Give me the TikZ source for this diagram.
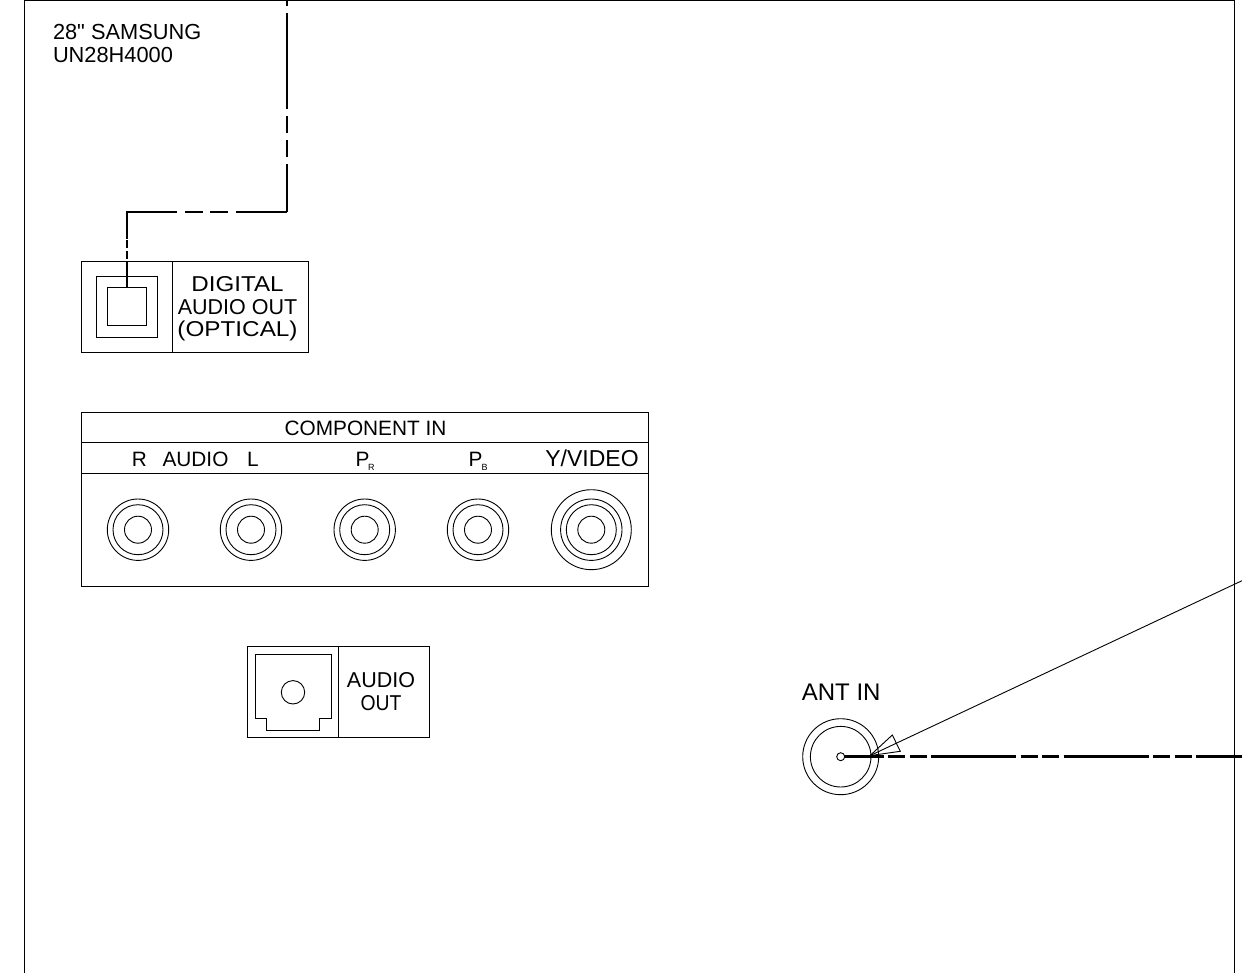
\documentclass[tikz,border=0pt]{standalone}
\usepackage{graphicx}
\usepackage{fontspec}
\setmainfont{Liberation Sans}[Ligatures=TeXOff]
\begin{document}
\begin{tikzpicture}[x=1pt,y=-1pt,
  thinline/.style={line width=0.9pt,black},
  panel/.style={draw,thinline,rectangle,inner sep=0pt,outer sep=0pt},
  ring/.style={draw,thinline,circle,inner sep=0pt,outer sep=0pt},
  label/.style={inner sep=0pt,outer sep=0pt,font=\fontsize{21.5}{22.5}\selectfont,text=black},
  titlelabel/.style={inner sep=0pt,outer sep=0pt,font=\fontsize{21.8}{22.7}\selectfont,text=black},
  rowlabel/.style={inner sep=0pt,outer sep=0pt,font=\fontsize{20.8}{22}\selectfont,text=black},
  sublabel/.style={inner sep=0pt,outer sep=0pt,font=\fontsize{9}{9}\selectfont,text=black},
  cable/.style={line width=1.7pt,black},
  coax/.style={line width=2.7pt,black}]
\useasboundingbox (0,0) rectangle (1242,973);
% outer frame
\coordinate (fbl) at (24.5,973);
\coordinate (ftl) at (24.5,0.5);
\coordinate (ftr) at (1234,0.5);
\coordinate (fbr) at (1234,973);
\draw[thinline] (fbl) -- (ftl) -- (ftr) -- (fbr);
% title
\node[titlelabel,anchor=base west,align=left] (title) at (53,62.7) {28" SAMSUNG\\UN28H4000};
% digital audio
\node[panel,minimum width=226.5pt,minimum height=90.5pt] (dbox) at (194.75,306.75) {};
\coordinate (dtop) at (172.5,261.5);
\coordinate (dbot) at (172.5,352);
\draw[thinline] (dtop) -- (dbot);
\node[panel,minimum width=61pt,minimum height=61pt] (dout) at (127,307) {};
\node[panel,minimum width=38.5pt,minimum height=38.5pt] (din) at (127,306.7) {};
\node[label,anchor=base,align=center] (dlabel) at (237.5,336.7) {\scalebox{1.125}[1]{DIGITAL}\\AUDIO OUT\\\scalebox{1.13}[1]{(OPTICAL)}};
% optical cable
\coordinate (ctop) at (287,0);
\coordinate (ccorner) at (287,212);
\coordinate (cleft) at (127,212);
\coordinate (cmid) at (127,239);
\draw[cable,dash pattern=on 96pt off 7pt on 17pt off 7pt on 17pt off 7pt,dash phase=138pt] (ctop) -- (ccorner);
\draw[cable,line join=miter,dash pattern=on 96pt off 8pt on 18pt off 7pt on 18pt off 8pt,dash phase=45pt] (ccorner) -- (cleft) -- (cmid);
\draw[cable,dash pattern=on 8.5pt off 2.5pt on 8.5pt off 2.5pt on 40pt off 2pt] (cmid) ++(0,1) -- (din.north);
% component in
\node[panel,minimum width=567.5pt,minimum height=174pt] (comp) at (365,499.7) {};
\coordinate (r1l) at (81.25,442.7);
\coordinate (r1r) at (648.75,442.7);
\coordinate (r2l) at (81.25,473.3);
\coordinate (r2r) at (648.75,473.3);
\draw[thinline] (r1l) -- (r1r) (r2l) -- (r2r);
\node[rowlabel,anchor=base] (ctitle) at (365.5,435.5) {COMPONENT IN};
\node[rowlabel,anchor=base] (lr) at (139.5,466) {R};
\node[rowlabel,anchor=base] (laudio) at (195.5,466) {AUDIO};
\node[rowlabel,anchor=base] (ll) at (253,466) {L};
\node[rowlabel,anchor=base west] (lpr) at (355.5,466) {P};
\node[sublabel,anchor=base west] (lprs) at (368,470) {R};
\node[rowlabel,anchor=base west] (lpb) at (468.5,466) {P};
\node[sublabel,anchor=base west] (lpbs) at (481.5,470) {B};
\node[label,anchor=base,font=\fontsize{23}{24}\selectfont] (lvid) at (592,466) {Y/VIDEO};
% jacks
\foreach \n/\cx in {a/138,b/251,c/364.7,d/478,e/591.3}{
  \node[ring,minimum size=61.4pt] (\n1) at (\cx,529.7) {};
  \node[ring,minimum size=50pt] (\n2) at (\cx,529.7) {};
  \node[ring,minimum size=27pt] (\n3) at (\cx,529.7) {};
}
\node[ring,minimum size=80pt] (e0) at (591.3,529.7) {};
% audio out
\node[panel,minimum width=182pt,minimum height=91pt] (abox) at (338.3,692.2) {};
\coordinate (atop) at (338.7,646.7);
\coordinate (abot) at (338.7,737.7);
\draw[thinline] (atop) -- (abot);
\coordinate (j1) at (255.3,654.3);
\coordinate (j2) at (331.3,654.3);
\coordinate (j3) at (331.3,718.7);
\coordinate (j4) at (319.7,718.7);
\coordinate (j5) at (319.7,730);
\coordinate (j6) at (266.3,730);
\coordinate (j7) at (266.3,718.7);
\coordinate (j8) at (255.3,718.7);
\draw[thinline,line join=miter] (j1) -- (j2) -- (j3) -- (j4) -- (j5) -- (j6) -- (j7) -- (j8) -- cycle;
\node[ring,minimum size=23.4pt] (aj) at (293,692.3) {};
\node[label,anchor=base,align=center] (alabel) at (381,710) {AUDIO\\\scalebox{0.9}[1]{OUT}};
% antenna
\node[ring,minimum size=76pt] (ant1) at (840.7,756.7) {};
\node[ring,minimum size=60.6pt] (ant2) at (840.7,756.7) {};
\node[label,anchor=base,font=\fontsize{24}{25}\selectfont] (antt) at (841.2,700.7) {ANT IN};
\coordinate (coaxstart) at (840.7,756.7);
\coordinate (coaxend) at (1242,756.7);
\draw[coax,dash pattern=on 85pt off 4.5pt on 17pt off 4.5pt on 17pt off 4.5pt,dash phase=42pt] (coaxstart) -- (coaxend);
\node[ring,minimum size=8pt,fill=white] (antc) at (840.7,756.7) {};
% pointer
\coordinate (ptip) at (870,755.6);
\coordinate (pa) at (892.3,735);
\coordinate (pb) at (900.3,751.3);
\coordinate (pend) at (1242,580.7);
\draw[thinline,line join=miter] (ptip) -- (pa) -- (pb) -- cycle;
\draw[thinline] (ptip) -- (pend);
\end{tikzpicture}
\end{document}
